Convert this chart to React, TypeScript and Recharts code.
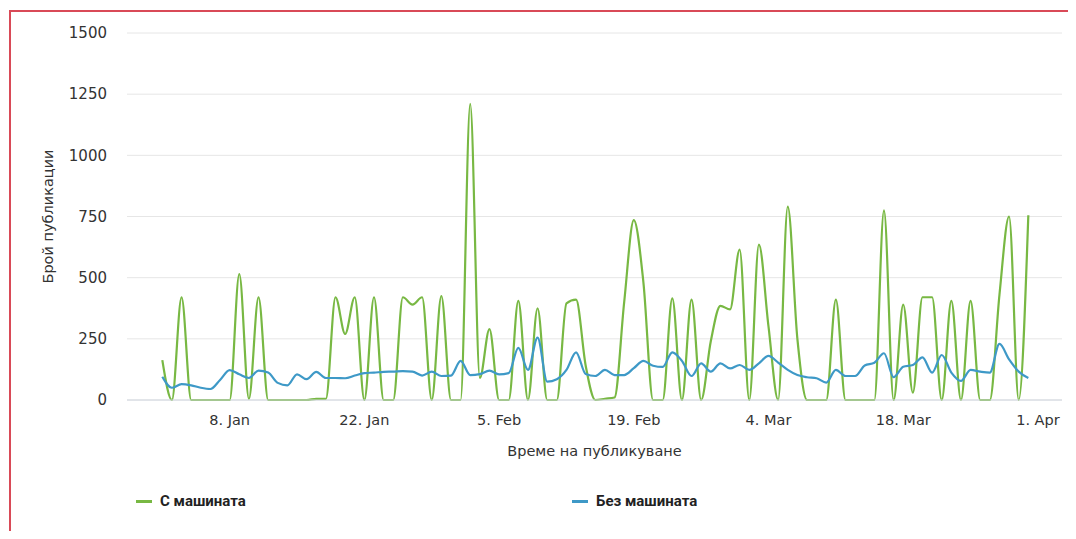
import { LineChart, Line, XAxis, YAxis, CartesianGrid } from 'recharts';

// daily counts, 1 Jan 2024 .. 31 Mar 2024
const START = Date.UTC(2024, 0, 1);
const DAY = 86400000;

const withMachine = [
  163, 0, 420, 0, 0, 0, 0, 0, 515, 5,
  420, 0, 0, 0, 0, 0, 5, 5, 420, 270,
  420, 0, 420, 0, 0, 420, 390, 420, 0, 425,
  0, 0, 1210, 90, 290, 0, 0, 405, 0, 375,
  0, 0, 395, 410, 140, 0, 5, 10, 400, 735,
  480, 0, 0, 415, 0, 410, 0, 240, 385, 370,
  615, 0, 635, 300, 0, 790, 250, 0, 0, 0,
  410, 0, 0, 0, 0, 775, 0, 390, 30, 420,
  420, 0, 405, 0, 405, 0, 0, 430, 750, 0,
  755,
];

const withoutMachine = [
  95, 50, 65, 60, 50, 45, 82, 122, 105, 90,
  120, 112, 70, 60, 105, 85, 115, 90, 90, 89,
  100, 110, 112, 115, 116, 118, 116, 100, 116, 98,
  100, 160, 102, 106, 120, 105, 110, 213, 123, 255,
  75, 85, 123, 195, 106, 98, 123, 102, 102, 130,
  160, 140, 135, 195, 160, 98, 150, 116, 150, 129,
  143, 123, 150, 180, 153, 123, 102, 93, 89, 71,
  123, 98, 98, 141, 152, 191, 93, 136, 143, 174,
  112, 184, 112, 78, 123, 116, 112, 229, 166, 116,
  90,
];

const yTicks = [0, 250, 500, 750, 1000, 1250, 1500];
const xTickDates = ['2024-01-08', '2024-01-22', '2024-02-05', '2024-02-19', '2024-03-04', '2024-03-18', '2024-04-01'];
const monthNames = ['Jan', 'Feb', 'Mar', 'Apr', 'May', 'Jun', 'Jul', 'Aug', 'Sep', 'Oct', 'Nov', 'Dec'];

const series = [
  { key: 'withMachine', name: 'С машината', color: '#78b843' },
  { key: 'withoutMachine', name: 'Без машината', color: '#3e99c7' },
];

const data = withMachine.map((v, i) => ({
  t: START + i * DAY,
  withMachine: v,
  withoutMachine: withoutMachine[i],
}));

const formatDate = (t: number) => {
  const d = new Date(t);
  return `${d.getUTCDate()}. ${monthNames[d.getUTCMonth()]}`;
};

const font = '"DejaVu Sans", sans-serif';

export default function App() {
  return (
    <div
      style={{
        position: 'relative',
        width: 1060,
        height: 531,
        marginBottom: -8,
        overflow: 'hidden',
        background: '#fff',
        fontFamily: font,
      }}
    >
      <div
        style={{
          position: 'absolute',
          left: 1,
          top: 2,
          width: 1200,
          height: 700,
          border: '2px solid #d94a57',
        }}
      />
      <LineChart
        width={1060}
        height={523}
        data={data}
        margin={{ top: 25, right: 6, left: 0, bottom: 61 }}
        style={{ position: 'absolute', left: 0, top: 0 }}
      >
        <CartesianGrid vertical={false} stroke="#e6e6e6" />
        <XAxis
          dataKey="t"
          type="number"
          domain={[START - 3.67 * DAY, START + 93.5 * DAY]}
          ticks={xTickDates.map((s) => Date.parse(s))}
          tickFormatter={formatDate}
          tickLine={false}
          tickSize={0}
          tickMargin={15}
          axisLine={{ stroke: '#d0d6df' }}
          tick={{ fill: '#333', fontSize: 14.5, fontFamily: font }}
          height={70}
          label={{
            value: 'Време на публикуване',
            position: 'insideBottom',
            offset: 14,
            fill: '#333',
            fontSize: 14.5,
            fontFamily: font,
          }}
        />
        <YAxis
          domain={[0, 1500]}
          ticks={yTicks}
          width={119}
          tickLine={false}
          axisLine={false}
          tickSize={0}
          tickMargin={20}
          tick={{ fill: '#333', fontSize: 15, fontFamily: font }}
          label={{
            value: 'Брой публикации',
            angle: -90,
            position: 'insideLeft',
            offset: 40,
            fill: '#333',
            fontSize: 14.5,
            fontFamily: font,
            style: { textAnchor: 'middle' },
          }}
        />
        {series.map((s) => (
          <Line
            key={s.key}
            type="monotone"
            dataKey={s.key}
            name={s.name}
            stroke={s.color}
            strokeWidth={2.2}
            dot={false}
            activeDot={false}
            isAnimationActive={false}
          />
        ))}
      </LineChart>
      {series.map((s, i) => (
        <div
          key={s.key}
          style={{
            position: 'absolute',
            left: i === 0 ? 128 : 564,
            top: 484,
            display: 'flex',
            alignItems: 'center',
            fontFamily: 'Roboto, sans-serif',
            fontWeight: 700,
            fontSize: 15,
            color: '#222',
          }}
        >
          <span
            style={{
              display: 'inline-block',
              width: 16,
              height: 3,
              background: s.color,
              marginRight: 8,
            }}
          />
          {s.name}
        </div>
      ))}
    </div>
  );
}
